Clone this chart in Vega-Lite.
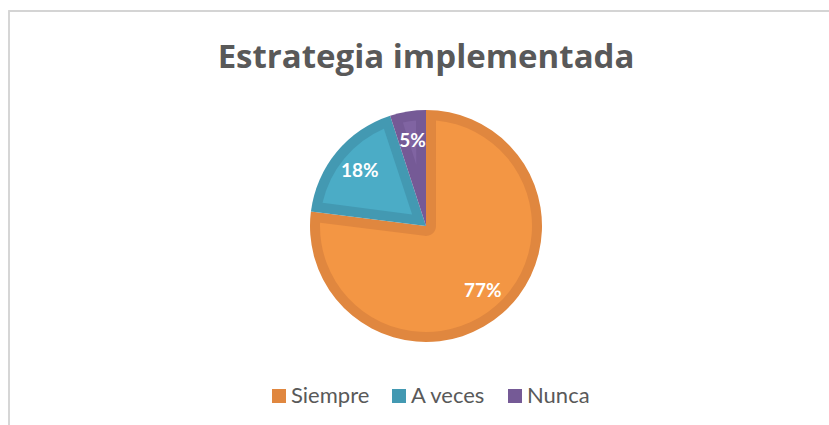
{
  "$schema": "https://vega.github.io/schema/vega-lite/v6.json",
  "autosize": "none",
  "width": 834,
  "height": 430,
  "padding": {"left": 9, "top": 11, "right": -14, "bottom": -16},
  "background": "white",
  "title": {
    "text": "Estrategia implementada",
    "font": "Open Sans",
    "fontSize": 33,
    "fontWeight": "bold",
    "color": "#595959",
    "anchor": "middle",
    "frame": "group",
    "baseline": "alphabetic",
    "offset": -57,
    "limit": 0,
    "dy": 34
  },
  "data": {
    "values": [
      {"Categoria": "Siempre", "valor": 77, "orden": 1, "etiqueta": "77%"},
      {"Categoria": "A veces", "valor": 18, "orden": 2, "etiqueta": "18%"},
      {"Categoria": "Nunca", "valor": 5, "orden": 3, "etiqueta": "5%"}
    ]
  },
  "transform": [
    {"stack": "valor", "groupby": [], "sort": [{"field": "orden", "order": "ascending"}], "as": ["v0", "v1"]}
  ],
  "layer": [
    {
      "mark": {"type": "rect", "fill": null, "fillOpacity": 0, "stroke": "#d4d4d4", "strokeWidth": 1.3},
      "encoding": {}
    },
    {
      "mark": {"type": "arc", "radius": 116},
      "encoding": {
        "theta": {"field": "v0", "type": "quantitative", "scale": {"domain": [0, 100]}},
        "theta2": {"field": "v1"},
        "color": {
          "field": "Categoria",
          "type": "nominal",
          "scale": {"domain": ["Siempre", "A veces", "Nunca"], "range": ["#E0873F", "#4399B2", "#755A96"]},
          "legend": {
            "orient": "none",
            "legendX": 259,
            "legendY": 374,
            "direction": "horizontal",
            "title": null,
            "symbolType": "square",
            "symbolSize": 196,
            "symbolStrokeWidth": 0,
            "labelFont": "Lato",
            "labelFontSize": 22,
            "labelColor": "#595959",
            "columnPadding": 18,
            "labelOffset": 1,
            "padding": 0
          }
        }
      }
    },
    {
      "transform": [{"filter": "datum.Categoria === 'Siempre'"}],
      "mark": {"type": "arc", "radius": 106, "radius2": 10, "padAngle": 0.188, "fill": "#F39644"},
      "encoding": {
        "theta": {"field": "v0", "type": "quantitative", "scale": {"domain": [0, 100]}},
        "theta2": {"field": "v1"}
      }
    },
    {
      "transform": [{"filter": "datum.Categoria === 'A veces'"}],
      "mark": {"type": "arc", "radius": 106, "radius2": 18, "padAngle": 0.186, "fill": "#4BACC6"},
      "encoding": {
        "theta": {"field": "v0", "type": "quantitative", "scale": {"domain": [0, 100]}},
        "theta2": {"field": "v1"}
      }
    },
    {
      "transform": [{"filter": "datum.Categoria === 'Nunca'"}],
      "mark": {"type": "arc", "radius": 106, "radius2": 62, "padAngle": 0.163, "fill": "#8064A2"},
      "encoding": {
        "theta": {"field": "v0", "type": "quantitative", "scale": {"domain": [0, 100]}},
        "theta2": {"field": "v1"}
      }
    },
    {
      "mark": {"type": "text", "radius": 86, "font": "Lato", "fontWeight": "bold", "fontSize": 19, "fill": "white"},
      "encoding": {
        "theta": {"field": "valor", "type": "quantitative", "stack": true, "scale": {"domain": [0, 100]}},
        "order": {"field": "orden", "type": "quantitative"},
        "text": {"field": "etiqueta", "type": "nominal"}
      }
    }
  ],
  "config": {
    "view": {"stroke": null}
  }
}
